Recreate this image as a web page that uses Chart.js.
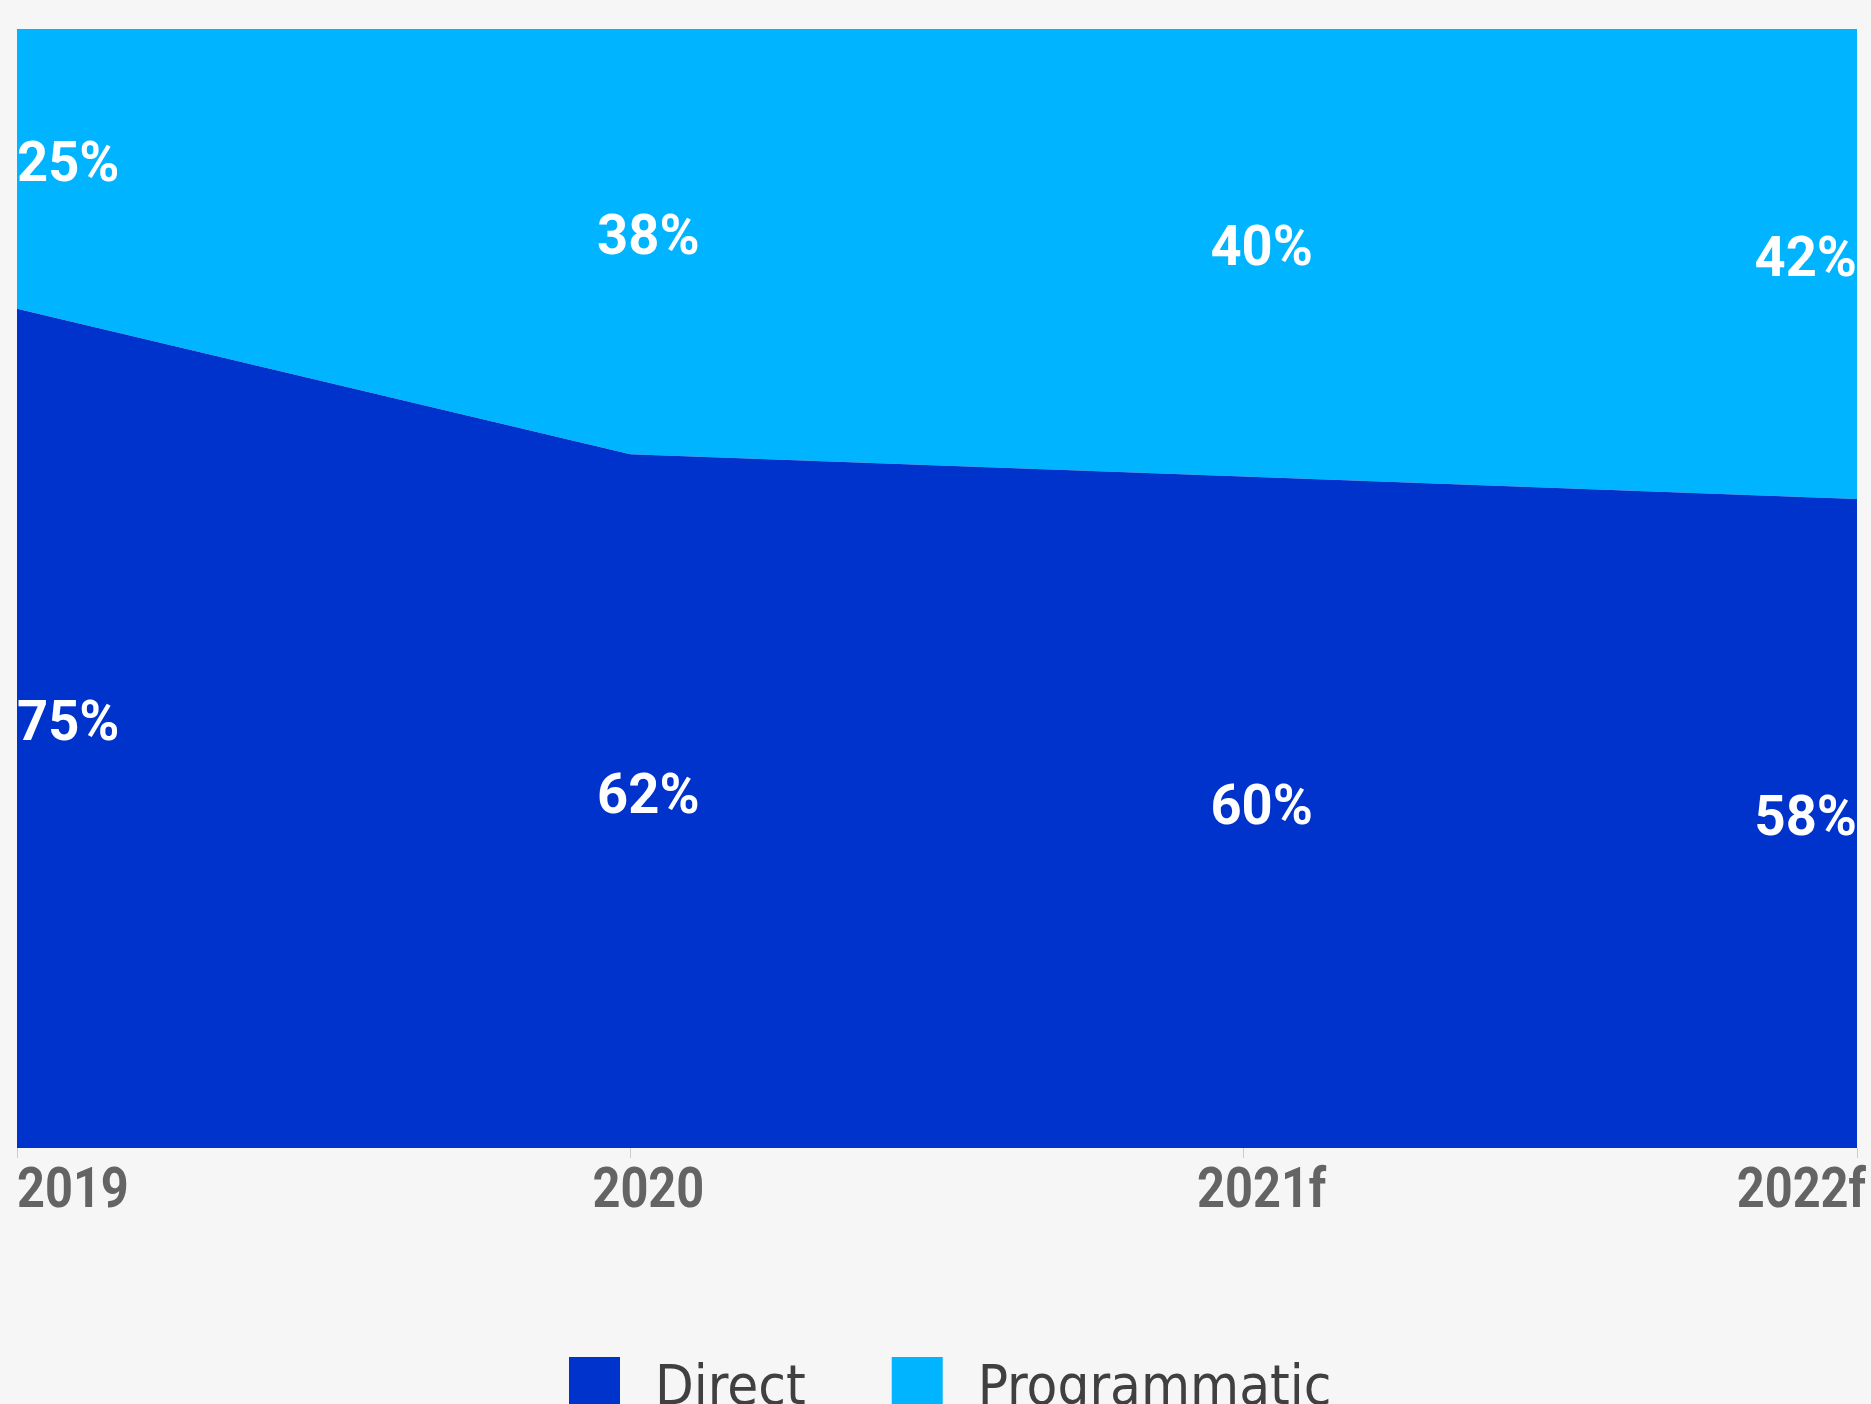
<!DOCTYPE html>
<html>
<head>
<meta charset="utf-8">
<script src="https://cdn.jsdelivr.net/npm/chart.js@4/dist/chart.umd.min.js"></script>
<style>
  html, body { margin: 0; padding: 0; background: #f6f6f6; overflow: hidden; }
</style>
</head>
<body>
<canvas id="shareChart" width="1871" height="1404"></canvas>
<script>
// chart data
var years = ['2019', '2020', '2021f', '2022f'];
var directShare = [75, 62, 60, 58];
var programmaticShare = [25, 38, 40, 42];

var LABEL_FONT = 'bold 56px Roboto, sans-serif';
var LEGEND_FONT = '56px "DejaVu Sans Condensed", sans-serif';

// squeezed text, anchored like the original: first label left, last right,
// the middle ones a bit past the centre of their tick
function drawText(ctx, txt, i, n, x, y, sx, lastShift) {
    var w = ctx.measureText(txt).width * sx;
    var left;
    if (i === 0) left = x;
    else if (i === n - 1) left = x + lastShift - w;
    else left = x + 18 - w / 2;
    ctx.save();
    ctx.translate(left, y);
    ctx.scale(sx, 1);
    ctx.textAlign = 'left';
    ctx.fillText(txt, 0, 0);
    ctx.restore();
}

var chartText = {
    id: 'chartText',
    afterDatasetsDraw: function(chart) {
        var ctx = chart.ctx;
        var bottom = chart.scales.y.getPixelForValue(0);
        ctx.save();
        ctx.textBaseline = 'alphabetic';

        // % labels in the middle of each band
        ctx.fillStyle = '#ffffff';
        ctx.font = LABEL_FONT;
        chart.data.datasets.forEach(function(ds, di) {
            var meta = chart.getDatasetMeta(di);
            meta.data.forEach(function(pt, i) {
                var lower = di === 0 ? bottom : chart.getDatasetMeta(di - 1).data[i].y;
                var y = (pt.y + lower) / 2 + 12;
                drawText(ctx, ds.data[i] + '%', i, meta.data.length, pt.x, y, 0.97, 0);
            });
        });

        // year labels under the axis
        var xs = chart.scales.x;
        ctx.fillStyle = '#646464';
        years.forEach(function(lbl, i) {
            drawText(ctx, lbl, i, years.length, xs.getPixelForValue(i), xs.top + 59, 0.87, 9);
        });

        // legend
        ctx.font = LEGEND_FONT;
        var lx = 569;
        chart.data.datasets.forEach(function(ds) {
            ctx.fillStyle = ds.backgroundColor;
            ctx.fillRect(lx, 1357, 51, 51);
            lx += 51 + 35;
            ctx.fillStyle = '#404040';
            ctx.fillText(ds.label, lx, 1404);
            lx += ctx.measureText(ds.label).width + 86;
        });
        ctx.restore();
    }
};

var ctx = document.getElementById('shareChart').getContext('2d');
var shareChart = new Chart(ctx, {
    type: 'line',
    data: {
        labels: years,
        datasets: [{
            label: 'Direct',
            data: directShare,
            backgroundColor: '#0033cc',
            borderColor: '#0033cc',
            borderWidth: 0,
            pointRadius: 0,
            fill: 'origin',
            tension: 0
        }, {
            label: 'Programmatic',
            data: programmaticShare,
            backgroundColor: '#00b4ff',
            borderColor: '#00b4ff',
            borderWidth: 0,
            pointRadius: 0,
            fill: '-1',
            tension: 0
        }]
    },
    options: {
        responsive: false,
        animation: false,
        layout: {
            padding: { top: 29, left: 17, right: 14, bottom: 137 }
        },
        plugins: {
            legend: { display: false },
            tooltip: { enabled: false }
        },
        scales: {
            x: {
                offset: false,
                grid: {
                    drawOnChartArea: false,
                    drawTicks: true,
                    tickLength: 10,
                    color: '#cccccc'
                },
                border: { display: false },
                ticks: { display: false },
                afterFit: function(scale) { scale.height = 119; }
            },
            y: {
                display: false,
                stacked: true,
                min: 0,
                max: 100
            }
        }
    },
    plugins: [chartText]
});
</script>
</body>
</html>
